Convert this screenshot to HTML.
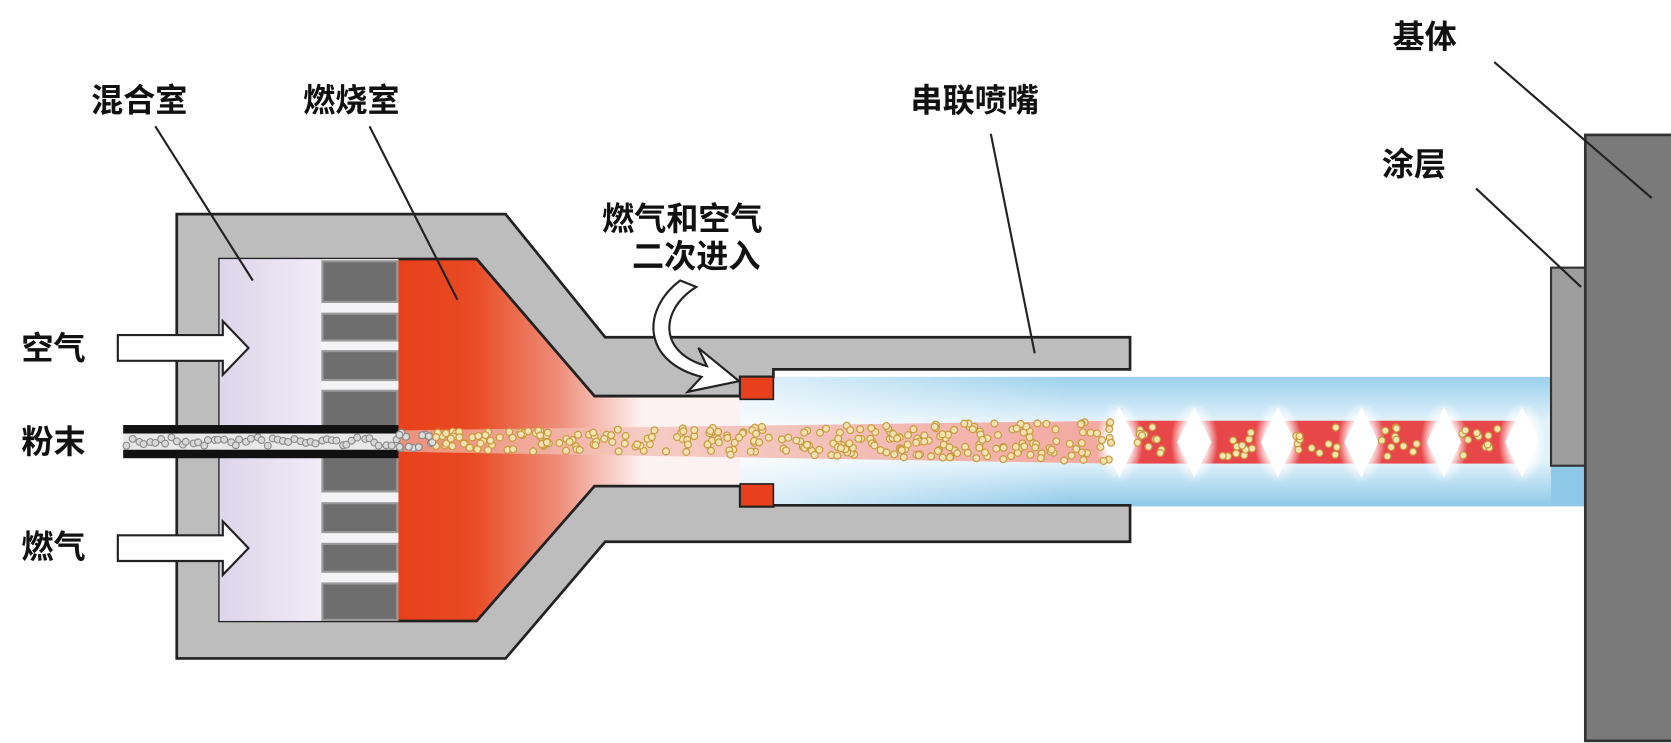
<!DOCTYPE html>
<html><head><meta charset="utf-8">
<style>
html,body{margin:0;padding:0;background:#fff;overflow:hidden}
svg{display:block}
text{font-family:"Liberation Sans","Noto Sans CJK SC",sans-serif;font-weight:bold;fill:#111}
</style></head>
<body>
<svg id="s" width="1671" height="743" viewBox="0 0 1560 694" preserveAspectRatio="none" xmlns="http://www.w3.org/2000/svg">
<defs>
<linearGradient id="red" x1="372" y1="0" x2="600" y2="0" gradientUnits="userSpaceOnUse">
<stop offset="0" stop-color="#e8401c"/><stop offset="0.3" stop-color="#e84a22"/><stop offset="0.65" stop-color="#ee8c78"/><stop offset="1" stop-color="#fdf2f2"/>
</linearGradient>
<linearGradient id="blue" x1="0" y1="352" x2="0" y2="473" gradientUnits="userSpaceOnUse">
<stop offset="0" stop-color="#9bd0ec"/><stop offset="0.35" stop-color="#e2f2fb"/><stop offset="0.65" stop-color="#e2f2fb"/><stop offset="1" stop-color="#8ec9e9"/>
</linearGradient>
<linearGradient id="bluefade" x1="560" y1="0" x2="1000" y2="0" gradientUnits="userSpaceOnUse">
<stop offset="0" stop-color="#fff" stop-opacity="1"/><stop offset="1" stop-color="#fff" stop-opacity="0"/>
</linearGradient>
<linearGradient id="core" x1="372" y1="0" x2="1040" y2="0" gradientUnits="userSpaceOnUse">
<stop offset="0" stop-color="#f2c8bc" stop-opacity="0.6"/><stop offset="1" stop-color="#f3a8a0"/>
</linearGradient>
<linearGradient id="lav" x1="205" y1="0" x2="300" y2="0" gradientUnits="userSpaceOnUse">
<stop offset="0" stop-color="#ddd5ea"/><stop offset="1" stop-color="#f0ecf6"/>
</linearGradient>
<radialGradient id="flash"><stop offset="0" stop-color="#fff"/><stop offset="0.6" stop-color="#fff" stop-opacity="0.8"/><stop offset="1" stop-color="#fff" stop-opacity="0"/></radialGradient>
</defs>

<rect x="560" y="352" width="888" height="121" fill="url(#blue)"/>
<rect x="1448" y="435" width="34" height="38" fill="#8ec9e9"/>
<rect x="560" y="352" width="440" height="121" fill="url(#bluefade)"/>

<path d="M165 200 H472 L565 315 H1055 V345 H722 V352 H691 V370 H555 L445 242 H205 V580 H445 L555 454 H691 V473 H722 V472 H1055 V506 H565 L472 615 H165 Z" fill="#bdbdbd" stroke="#222" stroke-width="2.5"/>
<rect x="205" y="242" width="95" height="338" fill="url(#lav)"/>
<rect x="300" y="242" width="72" height="338" fill="#f4f4f6"/>
<g fill="#6e6e6e" stroke="#9a9a9a" stroke-width="2">
<rect x="301" y="244" width="70" height="38"/><rect x="301" y="293" width="70" height="25"/><rect x="301" y="328" width="70" height="27"/><rect x="301" y="365" width="70" height="33"/>
<rect x="301" y="427" width="70" height="32"/><rect x="301" y="470" width="70" height="27"/><rect x="301" y="508" width="70" height="26"/><rect x="301" y="545" width="70" height="34"/>
</g>
<path d="M372 242 H445 L555 370 H691 V454 H555 L445 580 H372 Z" fill="url(#red)"/>
<path d="M372 242 H445 L555 370 H691 M691 454 H555 L445 580 H372" fill="none" stroke="#222" stroke-width="2.5"/>
<rect x="691" y="352" width="31" height="21" fill="#e8401c"/>
<rect x="691" y="452" width="31" height="21" fill="#e8401c"/>
<rect x="691" y="352" width="31" height="21" fill="none" stroke="#222" stroke-width="1.5"/>
<rect x="691" y="452" width="31" height="21" fill="none" stroke="#222" stroke-width="1.5"/>
<path d="M372 402 L1040 393 V433 L372 422 Z" fill="url(#core)"/>
<g id="seg"></g>
<rect x="115" y="397" width="257" height="8" fill="#111"/>
<rect x="115" y="420" width="257" height="8" fill="#111"/>
<rect x="115" y="405" width="257" height="15" fill="#e8e8e8"/>
<g id="parts"></g>

<rect x="1448" y="250" width="32" height="185" fill="#9e9e9e" stroke="#333" stroke-width="2"/>
<rect x="1480" y="126" width="86" height="566" fill="#7a7a7a" stroke="#333" stroke-width="2.5"/>

<g fill="#fff" stroke="#222" stroke-width="2">
<path d="M110 313 H208 V300 L232 325 L208 350 V337 H110 Z"/>
<path d="M110 500 H208 V487 L232 512 L208 537 V524 H110 Z"/>
</g>
<path d="M650 268 C615 290 615 330 660 342 L652 325 L690 356 L642 366 L655 352 C600 338 598 290 635 262 Z" fill="#fff" stroke="#222" stroke-width="2"/>

<g stroke="#222" stroke-width="2">
<line x1="145" y1="118" x2="236" y2="262"/>
<line x1="345" y1="118" x2="427" y2="280"/>
<line x1="925" y1="125" x2="966" y2="330"/>
<line x1="1395" y1="58" x2="1542" y2="185"/>
<line x1="1378" y1="176" x2="1476" y2="268"/>
</g>

<g font-size="30">
<text x="85" y="104">混合室</text>
<text x="283" y="104">燃烧室</text>
<text x="850" y="104">串联喷嘴</text>
<text x="562" y="215">燃气和空气</text>
<text x="590" y="250">二次进入</text>
<text x="1300" y="45">基体</text>
<text x="1290" y="164">涂层</text>
<text x="20" y="336">空气</text>
<text x="20" y="423">粉末</text>
<text x="20" y="521">燃气</text>
</g>
</svg>
<script>
(function(){
var ns="http://www.w3.org/2000/svg";
var seed=7;function r(){seed=(seed*16807)%2147483647;return (seed-1)/2147483646;}
var seg=document.getElementById("seg"),parts=document.getElementById("parts");
function el(n,a,p){var e=document.createElementNS(ns,n);for(var k in a)e.setAttribute(k,a[k]);p.appendChild(e);return e;}
var xs=[1040,1112,1190,1268,1345,1418];
el("rect",{x:1040,y:393,width:378,height:40,fill:"#e8474a"},seg);
for(var i=0;i<6;i++){var fx=(i==0?1045:xs[i]+3);
 el("ellipse",{cx:fx,cy:413,rx:22,ry:38,fill:"url(#flash)"},seg);
 el("path",{d:"M"+(fx-16)+" 413 L"+fx+" 380 L"+(fx+16)+" 413 L"+fx+" 446 Z",fill:"#fff"},seg);}
for(var x=118;x<372;x+=5){el("circle",{cx:x+r()*3,cy:408+r()*9,r:3.2,fill:"#d8d8d8",stroke:"#888","stroke-width":1},parts);}
for(var j=0;j<300;j++){var x=372+r()*668;var t=(x-372)/668;var hw=8+t*11;var y=412+(r()*2-1)*hw;
 var g=t<0.05;el("circle",{cx:x,cy:y,r:3.2,fill:g?"#ddd":"#f2e2b0",stroke:g?"#888":"#c89a40","stroke-width":1.1},parts);}
for(var i=0;i<5;i++){var a=xs[i]+20,b=xs[i+1]-18;for(var k=0;k<11;k++){el("circle",{cx:a+r()*(b-a),cy:399+r()*28,r:3.2,fill:"#f4e6b0",stroke:"#c89a40","stroke-width":1.1},parts);}}
})();
</script>
</body></html>
